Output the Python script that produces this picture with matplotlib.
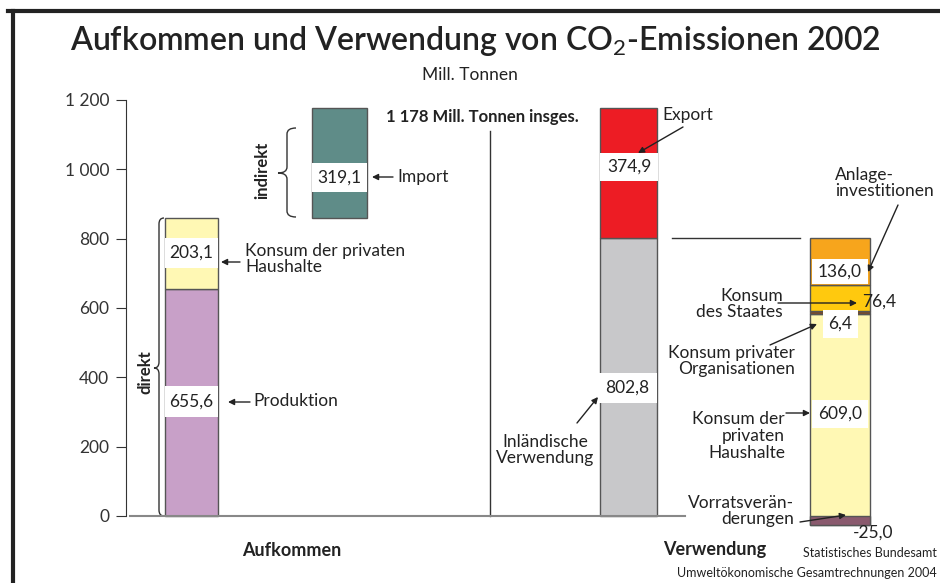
import numpy as np
import matplotlib
matplotlib.use("Agg")
import matplotlib.pyplot as plt
from matplotlib.patches import Rectangle, PathPatch
from matplotlib.path import Path
from matplotlib.lines import Line2D

plt.rcParams["font.family"] = ["Lato", "DejaVu Sans"]
plt.rcParams["mathtext.fontset"] = "custom"
plt.rcParams["mathtext.rm"] = "Lato"
plt.rcParams["text.color"] = "#222222"

# ---- Daten (Mill. Tonnen CO2, 2002)
aufkommen_namen = ["Produktion", "Konsum der privaten Haushalte", "Import"]
aufkommen_werte = [655.6, 203.1, 319.1]

verwendung_namen = ["Inländische Verwendung", "Export"]
verwendung_werte = [802.8, 374.9]

inland_namen = ["Vorratsveränderungen", "Konsum der privaten Haushalte",
                "Konsum privater Organisationen", "Konsum des Staates",
                "Anlageinvestitionen"]
inland_werte = [-25.0, 609.0, 6.4, 76.4, 136.0]

gesamt = 1178
yticks = [0, 200, 400, 600, 800, 1000, 1200]

# ---- Layout (Pixel-Hilfen)
W, H = 940, 583
Y0, PXU = 516, 416 / 1200   # Pixel der Null-Linie, Pixel pro Einheit
YMIN = -60
FS = 12.5

def v(p):
    # Pixel-y -> Datenwert
    return (Y0 - p) / PXU

def fmt(x):
    return f"{x:,.1f}".replace(",", " ").replace(".", ",")

fig = plt.figure(figsize=(W / 100, H / 100), dpi=100)
bottom_px = Y0 - YMIN * PXU
ax = fig.add_axes([126 / W, (H - bottom_px) / H, (W - 126) / W, (bottom_px - 100) / H])
ax.set_xlim(126, W)
ax.set_ylim(YMIN, 1200)
for s in ["top", "right", "bottom"]:
    ax.spines[s].set_visible(False)
ax.spines["left"].set_bounds(0, 1200)
ax.spines["left"].set_color("#333333")
ax.set_xticks([])
ax.set_yticks(yticks)
ax.set_yticklabels([f"{t:,}".replace(",", " ") for t in yticks], fontsize=12.5, color="#333333")
ax.tick_params(axis="y", length=7, color="#333333", pad=5)

# Rahmen
fig.add_artist(Line2D([8 / W, 1], [1 - 10.5 / H] * 2, color="#222222", lw=3))
fig.add_artist(Line2D([13 / W] * 2, [0, 1 - 10.5 / H], color="#222222", lw=3))

# Titel
fig.text(475 / W, 1 - 41 / H, "Aufkommen und Verwendung von CO$_{\\mathrm{2}}$-Emissionen 2002",
         ha="center", va="center", fontsize=23, fontweight="semibold")
fig.text(470 / W, 1 - 75 / H, "Mill. Tonnen", ha="center", va="center", fontsize=FS)

edge = "#555555"
# Aufkommen
prod, kons, imp = aufkommen_werte
ax.bar(191.5, prod, width=53, color="#C8A0C8", edgecolor=edge, lw=1)
ax.bar(191.5, kons, bottom=prod, width=53, color="#FFF8B4", edgecolor=edge, lw=1)
ax.bar(339.5, imp, bottom=prod + kons, width=55, color="#5F8C88", edgecolor=edge, lw=1)

# Verwendung
inl, exp_ = verwendung_werte
ax.bar(628.5, inl, width=57, color="#C8C8CA", edgecolor=edge, lw=1)
ax.bar(628.5, exp_, bottom=inl, width=57, color="#ED1C24", edgecolor=edge, lw=1)

# Aufteilung inländische Verwendung
farben = ["#8A5A6E", "#FFF8B4", "#7A4A2A", "#FFC90E", "#F7A51C"]
basis = inland_werte[0]
for i, (wert, farbe) in enumerate(zip(inland_werte, farben)):
    if i == 0:
        continue
    ax.bar(840, wert, bottom=basis, width=60, color=farbe, edgecolor=edge, lw=1, zorder=2)
    basis += wert
ax.bar(840, inland_werte[0], width=60, color=farben[0], edgecolor=edge, lw=1, zorder=3)

# Grundlinie, Trennlinie, Verbindungslinie
ax.plot([130, 685], [0, 0], color="#888888", lw=1.5, zorder=4)
ax.plot([490, 490], [0, v(131)], color="#333333", lw=1)
ax.plot([672, 800], [inl, inl], color="#333333", lw=1)

# Wertekästen
def box(x0, x1, p0, p1, wert):
    ax.add_patch(Rectangle((x0, v(p1)), x1 - x0, v(p0) - v(p1), fc="white", ec="none", zorder=5))
    ax.text((x0 + x1) / 2, v((p0 + p1) / 2), fmt(wert), ha="center", va="center",
            fontsize=FS, zorder=6)

box(165, 218, 386, 417, prod)
box(165, 218, 238, 268, kons)
box(312, 367, 163, 192, imp)
box(600, 658, 153, 181, exp_)
box(597, 657, 373, 403, inl)
box(812, 868, 259, 284, inland_werte[4])
box(823, 858, 310, 338, inland_werte[2])
box(812, 868, 400, 428, inland_werte[1])
ax.text(862, v(302), fmt(inland_werte[3]), ha="left", va="center", fontsize=FS, zorder=6)
ax.text(873, v(533), fmt(inland_werte[0]), ha="center", va="center", fontsize=FS, zorder=6)

# Pfeile
def pfeil(p_from, p_to):
    ax.annotate("", xy=(p_to[0], v(p_to[1])), xytext=(p_from[0], v(p_from[1])),
                arrowprops=dict(arrowstyle="-|>", color="#222222", lw=1, mutation_scale=9,
                                shrinkA=0, shrinkB=0),
                annotation_clip=False, zorder=7)

pfeil((240, 262), (221, 262))
pfeil((250, 402), (228, 402))
pfeil((393, 177), (372, 177))
pfeil((683, 127), (638, 153))
pfeil((577, 423), (598, 397))
pfeil((898, 205), (868, 272))
pfeil((778, 303), (857, 303))
pfeil((770, 345), (817, 324))
pfeil((786, 413), (810, 413))
pfeil((800, 522), (846, 515))

# Beschriftungen
def txt(x, p, s, ha="left", fs=FS, **kw):
    ax.text(x, v(p), s, ha=ha, va="center", fontsize=fs, linespacing=1.05, **kw)

txt(245, 259, "Konsum der privaten\nHaushalte")
txt(253, 401, "Produktion")
txt(397, 177, "Import")
txt(688, 115, "Export", ha="center")
txt(545, 450, "Inländische\nVerwendung", ha="center")
txt(835, 183, "Anlage-\ninvestitionen")
txt(783, 304, "Konsum\ndes Staates", ha="right")
txt(795, 361, "Konsum privater\nOrganisationen", ha="right")
txt(785, 436, "Konsum der\nprivaten\nHaushalte", ha="right")
txt(794, 511, "Vorratsverän-\nderungen", ha="right")
txt(482, 117, f"{gesamt:,}".replace(",", " ") + " Mill. Tonnen insges.", ha="center",
    fontweight="bold", fs=12)
txt(262, 170, "indirekt", ha="center", rotation=90, fontweight="bold", fs=12)
txt(145, 372, "direkt", ha="center", rotation=90, fontweight="bold", fs=12)
txt(292, 550, "Aufkommen", ha="center", fontweight="bold", fs=13)
txt(715, 550, "Verwendung", ha="center", fontweight="bold", fs=13)
fig.text(937 / W, 1 - 553 / H, "Statistisches Bundesamt", ha="right", va="center", fontsize=9)
fig.text(937 / W, 1 - 573 / H, "Umweltökonomische Gesamtrechnungen 2004", ha="right",
         va="center", fontsize=9)

# Klammern
def klammer(xl, xr, p_top, p_bot, p_mid, r=6):
    xm = (xl + xr) / 2
    t, b, m, rr = v(p_top), v(p_bot), v(p_mid), r / PXU
    verts = [(xr, t), (xm, t), (xm, t - rr), (xm, m + rr), (xm, m), (xl, m),
             (xm, m), (xm, m - rr), (xm, b + rr), (xm, b), (xr, b)]
    codes = [Path.MOVETO, Path.CURVE3, Path.CURVE3, Path.LINETO, Path.CURVE3, Path.CURVE3,
             Path.CURVE3, Path.CURVE3, Path.LINETO, Path.CURVE3, Path.CURVE3]
    ax.add_patch(PathPatch(Path(verts, codes), fc="none", ec="#333333", lw=1, clip_on=False))

klammer(278, 296, 128, 217, 173)
klammer(154, 164, 218, 516, 368)

fig.savefig("out.png", dpi=100)
